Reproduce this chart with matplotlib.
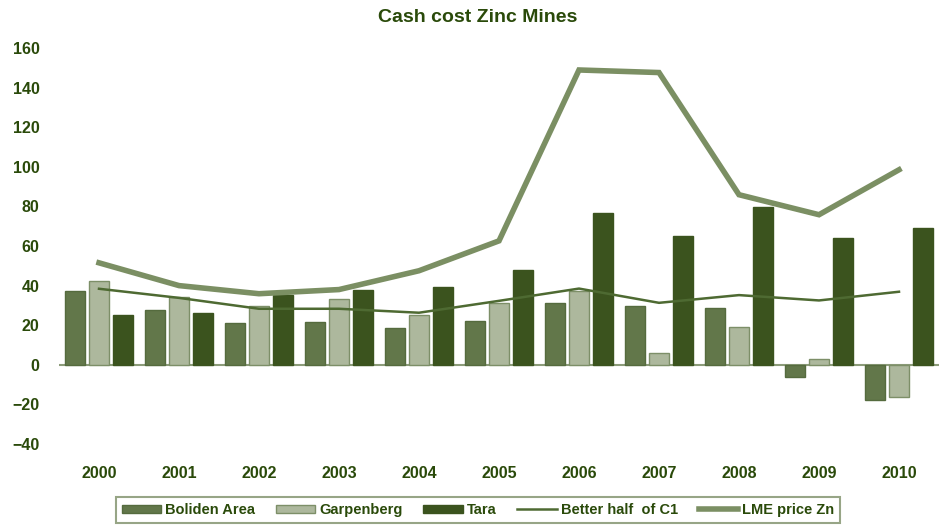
import matplotlib
matplotlib.use("Agg")
import matplotlib.pyplot as plt
import numpy as np

years = ["2000", "2001", "2002", "2003", "2004", "2005", "2006", "2007", "2008", "2009", "2010"]
boliden = [37.4, 27.9, 20.9, 21.7, 18.5, 22.2, 31.0, 29.8, 28.5, -6.2, -18.0]
garpenberg = [42.3, 34.2, 29.8, 33.0, 25.4, 31.0, 37.2, 5.9, 19.0, 2.7, -16.3]
tara = [25.4, 26.1, 35.4, 37.9, 39.2, 48.0, 76.8, 65.2, 79.6, 63.8, 69.3]
better_half_c1 = [38.4, 33.8, 28.3, 28.3, 26.3, 32.3, 38.5, 31.3, 35.2, 32.5, 36.9]
lme_price = [51.5, 40.0, 35.9, 38.0, 47.5, 62.6, 148.9, 147.6, 85.9, 75.8, 98.5]
yticks = [-40, -20, 0, 20, 40, 60, 80, 100, 120, 140, 160]

plt.rcParams['font.family'] = ['Liberation Sans', 'DejaVu Sans']
txt = '#2a4a0a'

fig = plt.figure(figsize=(9.44, 5.26), dpi=100)
ax = fig.add_axes([59/944, 1-444/526, 880/944, 396/526])

x = np.arange(len(years))
w = 0.25
b1 = ax.bar(x - 0.3, boliden, w, color='#62774a', edgecolor='#556b3e', linewidth=1, label='Boliden Area', zorder=2)
b2 = ax.bar(x, garpenberg, w, color='#adb89d', edgecolor='#7d8f68', linewidth=1, label='Garpenberg', zorder=2)
b3 = ax.bar(x + 0.3, tara, w, color='#3b531e', edgecolor='#3b531e', linewidth=1, label='Tara', zorder=2)
l1, = ax.plot(x, better_half_c1, color='#4e6a32', linewidth=1.8, label='Better half  of C1', zorder=3)
l2, = ax.plot(x, lme_price, color='#7b8f63', linewidth=4, label='LME price Zn', zorder=4, solid_joinstyle='miter')
ax.axhline(0, color='#8c9c7a', linewidth=1.5, zorder=1)

ax.set_xlim(-0.5, len(years) - 0.5)
ax.set_ylim(-40, 160)
ax.set_yticks(yticks)
ax.set_xticks(x)
ax.set_xticklabels(years)
for s in ax.spines.values():
    s.set_visible(False)
ax.tick_params(length=0, colors=txt, labelsize=11.5)
ax.tick_params(axis='x', pad=16)
ax.tick_params(axis='y', pad=14)
for lab in ax.get_xticklabels() + ax.get_yticklabels():
    lab.set_fontweight('bold')
    lab.set_color(txt)

fig.text(478/944, 1-17/526, 'Cash cost Zinc Mines', ha='center', va='center',
         fontsize=14, fontweight='bold', color=txt)

handles = [b1, b2, b3, l1, l2]
labels = [h.get_label() for h in handles]
leg = fig.legend(handles, labels, loc='center', bbox_to_anchor=(478/944, 1-510/526), ncol=5,
                 frameon=True, fancybox=False, edgecolor='#7d8f68',
                 prop={'weight': 'bold', 'size': 10.5}, handlelength=2.7, handleheight=0.45,
                 columnspacing=1.4, handletextpad=0.3, borderpad=0.4, borderaxespad=0)
leg.get_frame().set_linewidth(1.5)
for t in leg.get_texts():
    t.set_color(txt)

fig.savefig('out.png', dpi=100)
